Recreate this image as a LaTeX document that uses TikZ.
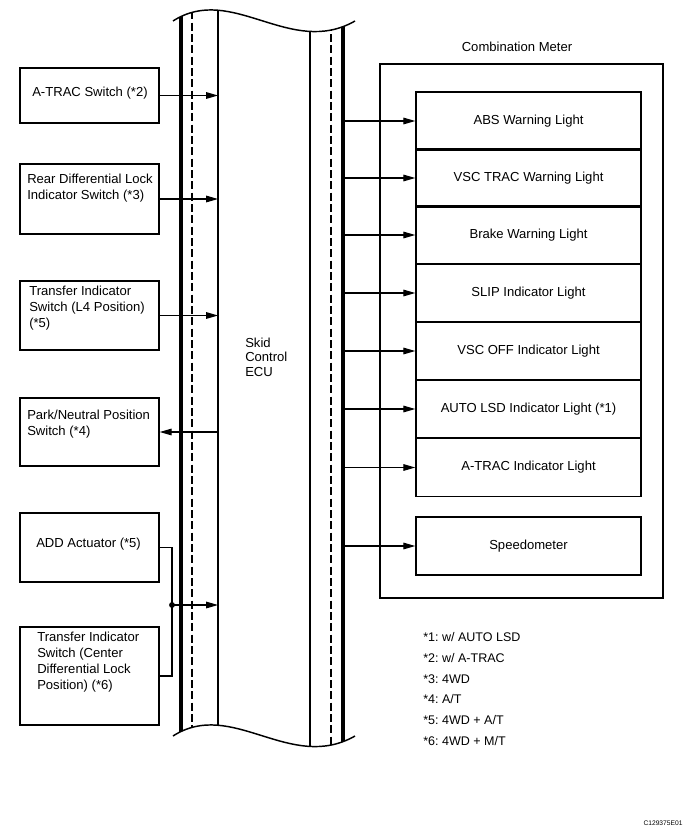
\documentclass[tikz,border=0pt]{standalone}
\usepackage{fontspec}
\setmainfont{Liberation Sans}
\usetikzlibrary{arrows.meta}
\frenchspacing
\begin{document}
\begin{tikzpicture}[x=0.75pt,y=-0.75pt,
  box/.style={draw,line width=1.1pt,rectangle,inner sep=0pt,minimum width=104.25pt},
  mbox/.style={draw,line width=1.1pt,rectangle,inner sep=0pt,minimum width=168.75pt,minimum height=43.5pt,font=\fontsize{9.8}{12}\selectfont},
  txt/.style={font=\fontsize{9.8}{12}\selectfont,align=left,inner sep=0pt,anchor=west},
  conn/.style={line width=0.8pt},
  arr/.style={conn,-{Triangle[length=9pt,width=5pt]}},
  thickbar/.style={line width=2.6pt},
  thinbar/.style={line width=1.1pt},
  dashbar/.style={line width=1.4pt,dash pattern=on 6pt off 2.5pt},
  wave/.style={line width=1.1pt},
]
\useasboundingbox (0,0) rectangle (690,835);

% ECU bus
\begin{scope}
\clip (173,21) .. controls (232,-17) and (290,58) .. (355,21) -- (355,736) .. controls (290,773) and (232,698) .. (173,736) -- cycle;
\draw[thickbar] (181,0) -- (181,770);
\draw[dashbar] (192,0) -- (192,770);
\draw[thinbar] (218,0) -- (218,770);
\draw[thinbar] (310,0) -- (310,770);
\draw[dashbar] (331,0) -- (331,770);
\draw[thickbar] (343,0) -- (343,770);
\end{scope}
\draw[wave] (173,21) .. controls (232,-17) and (290,58) .. (355,21);
\draw[wave] (173,736) .. controls (232,698) and (290,773) .. (355,736);
\coordinate (eL) at (218,0);
\coordinate (eR) at (343,0);
\node[txt,font=\fontsize{9.8}{11}\selectfont] (ecu) at (245,357) {Skid\\Control\\ECU};

% left boxes
\node[box,minimum height=41.25pt] (b1) at (89.5,95.5) {};
\node[box,minimum height=52.5pt] (b2) at (89.5,199) {};
\node[box,minimum height=51.75pt] (b3) at (89.5,315.5) {};
\node[box,minimum height=51pt] (b4) at (89.5,432) {};
\node[box,minimum height=51.75pt] (b5) at (89.5,547.5) {};
\node[box,minimum height=73.5pt] (b6) at (89.5,676) {};

\node[txt] (t1) at (32,93) {A-TRAC Switch (*2)};
\node[txt] (t2) at (27,188) {Rear Differential Lock\\Indicator Switch (*3)};
\node[txt] (t3) at (29,308.5) {Transfer Indicator\\Switch (L4 Position)\\(*5)};
\node[txt] (t4) at (27,424) {Park/Neutral Position\\Switch (*4)};
\node[txt] (t5) at (36,544) {ADD Actuator (*5)};
\node[txt] (t6) at (37,662) {Transfer Indicator\\Switch (Center\\Differential Lock\\Position) (*6)};

\draw[arr] (b1.east) -- (eL |- b1.east);
\draw[arr] (b2.east) -- (eL |- b2.east);
\draw[arr] (b3.east) -- (eL |- b3.east);
\draw[arr] (eL |- b4.east) -- (b4.east);
\coordinate (jn) at (172,605);
\draw[conn] (b5.east) -| (jn) |- (b6.east);
\fill (jn) circle[radius=2.2pt];
\draw[arr] (jn) -- (eL |- jn);

% combination meter
\node[font=\fontsize{9.8}{12}\selectfont,inner sep=0pt] (cmt) at (517,47) {Combination Meter};
\node[draw,line width=1.1pt,rectangle,inner sep=0pt,minimum width=212.25pt,minimum height=400.5pt] (cm) at (521.5,331) {};
\node[mbox] (m1) at (528.5,121) {ABS Warning Light};
\node[mbox] (m2) at (528.5,178) {VSC TRAC Warning Light};
\node[mbox] (m3) at (528.5,235) {Brake Warning Light};
\node[mbox] (m4) at (528.5,293) {SLIP Indicator Light};
\node[mbox] (m5) at (528.5,351) {VSC OFF Indicator Light};
\node[mbox] (m6) at (528.5,409) {AUTO LSD Indicator Light (*1)};
\node[mbox] (m7) at (528.5,467.5) {A-TRAC Indicator Light};
\node[mbox] (m8) at (528.5,546) {Speedometer};
\foreach \m in {m1,m2,m3,m4,m5,m6,m7,m8}{
  \draw[arr] (eR |- \m.west) -- (\m.west);
}

% footnotes
\node[txt,font=\fontsize{9.4}{15.5}\selectfont] (fn) at (423,689) {*1: w/ AUTO LSD\\*2: w/ A-TRAC\\*3: 4WD\\*4: A/T\\*5: 4WD + A/T\\*6: 4WD + M/T};
\node[inner sep=0pt,font=\fontsize{5}{6}\selectfont] (code) at (663,823) {C129375E01};
\end{tikzpicture}
\end{document}
